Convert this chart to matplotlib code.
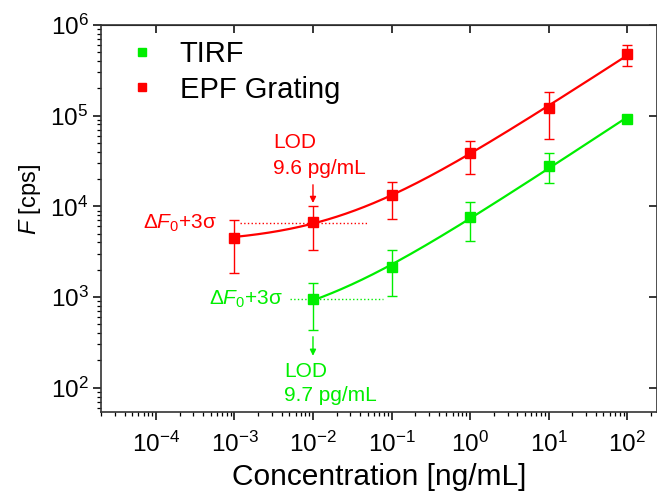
import numpy as np
import matplotlib
matplotlib.use("Agg")
import matplotlib.pyplot as plt
from matplotlib.lines import Line2D

plt.rcParams['font.family'] = ['Liberation Sans', 'DejaVu Sans']
plt.rcParams['mathtext.fontset'] = 'custom'
plt.rcParams['mathtext.rm'] = 'Liberation Sans'
plt.rcParams['mathtext.it'] = 'Liberation Sans:italic'
plt.rcParams['mathtext.bf'] = 'Liberation Sans:bold'

# ---- data ----
conc_epf = np.array([1e-3, 1e-2, 1e-1, 1e0, 1e1, 1e2])
F_epf = np.array([4500, 6700, 13200, 39000, 122000, 480000])
F_epf_hi = np.array([7000, 10200, 18600, 53000, 182000, 600000])
F_epf_lo = np.array([1860, 3300, 7200, 23000, 55000, 355000])

conc_tirf = np.array([1e-2, 1e-1, 1e0, 1e1, 1e2])
F_tirf = np.array([940, 2150, 7600, 28000, 92000])
F_tirf_hi = np.array([1440, 3300, 11200, 39000, 92000])
F_tirf_lo = np.array([430, 1030, 4100, 18000, 92000])

x_ticks = [1e-4, 1e-3, 1e-2, 1e-1, 1e0, 1e1, 1e2]
y_ticks = [1e2, 1e3, 1e4, 1e5, 1e6]

lod_epf_level = 6500
lod_tirf_level = 940
lod_epf_label = "9.6 pg/mL"
lod_tirf_label = "9.7 pg/mL"

RED = '#ff0000'
GREEN = '#00ee00'


def fit_curve(x, y):
    best = None
    for c in np.linspace(0.2, 1.5, 1301):
        A = np.column_stack([np.ones_like(x), x ** c]) / y[:, None]
        coef, *_ = np.linalg.lstsq(A, np.ones_like(y), rcond=None)
        res = np.sum((A @ coef - 1) ** 2)
        if best is None or res < best[0]:
            best = (res, coef[0], coef[1], c)
    return best[1:]


fig = plt.figure(figsize=(6.57, 4.93), dpi=100)
ax = fig.add_axes([101 / 657, 81 / 493, 556 / 657, 387 / 493])
ax.set_xscale('log')
ax.set_yscale('log')
ax.set_xlim(2e-5, 240)
ax.set_ylim(54, 1e6)

for x, y, lo, hi, col in [(conc_epf, F_epf, F_epf_lo, F_epf_hi, RED),
                          (conc_tirf, F_tirf, F_tirf_lo, F_tirf_hi, GREEN)]:
    a, b, c = fit_curve(x, y)
    xs = np.logspace(np.log10(x.min()), np.log10(x.max()), 300)
    ax.plot(xs, a + b * xs ** c, color=col, lw=1.6, zorder=2)
    mask = (hi - lo) > 0
    ax.errorbar(x[mask], y[mask], yerr=[y[mask] - lo[mask], hi[mask] - y[mask]],
                fmt='none', ecolor=col, elinewidth=1.0, capsize=3.5, capthick=1.0,
                zorder=3)
    ax.plot(x, y, 's', color=col, ms=7.5, zorder=4)

# dotted LOD levels
ax.plot([10 ** -2.93, 10 ** -1.30], [lod_epf_level] * 2, ':', color=RED, lw=1.0)
ax.plot([10 ** -2.29, 10 ** -1.11], [lod_tirf_level] * 2, ':', color=GREEN, lw=1.0)

ax.text(10 ** -3.22, lod_epf_level, "Δ$F_0$+3σ", color=RED, fontsize=15,
        ha='right', va='center')
ax.text(10 ** -2.38, lod_tirf_level, "Δ$F_0$+3σ", color=GREEN, fontsize=15,
        ha='right', va='center')

# LOD arrows and labels
ax.annotate('', xy=(1e-2, 10900), xytext=(1e-2, 17300),
            arrowprops=dict(arrowstyle='-|>', color=RED, lw=1.0,
                            mutation_scale=9, shrinkA=0, shrinkB=0))
ax.annotate('', xy=(1e-2, 225), xytext=(1e-2, 365),
            arrowprops=dict(arrowstyle='-|>', color=GREEN, lw=1.0,
                            mutation_scale=9, shrinkA=0, shrinkB=0))
ax.text(10 ** -2.51, 50000, "LOD", color=RED, fontsize=15, ha='left', va='center')
ax.text(10 ** -2.51, 25900, lod_epf_label, color=RED, fontsize=15, ha='left', va='center')
ax.text(10 ** -2.37, 150, "LOD", color=GREEN, fontsize=15, ha='left', va='center')
ax.text(10 ** -2.37, 82, lod_tirf_label, color=GREEN, fontsize=15, ha='left', va='center')

# axes styling
for s in ax.spines.values():
    s.set_linewidth(1.2)
    s.set_color('#333333')
ax.set_xticks(x_ticks)
ax.set_yticks(y_ticks)
ax.xaxis.set_minor_locator(matplotlib.ticker.LogLocator(base=10, subs=np.arange(2, 10), numticks=20))
ax.xaxis.set_minor_formatter(matplotlib.ticker.NullFormatter())
ax.yaxis.set_minor_formatter(matplotlib.ticker.NullFormatter())
ax.tick_params(axis='both', which='major', direction='out', length=6, width=1.1,
               labelsize=17.5)
ax.tick_params(axis='x', which='major', pad=8)
ax.tick_params(axis='y', which='major', pad=3)
ax.tick_params(axis='both', which='minor', direction='out', length=3, width=0.9)

axt = ax.secondary_xaxis('top')
axt.set_xticks(x_ticks)
axt.tick_params(which='major', direction='in', length=6, width=1.1, labeltop=False)
axt.tick_params(which='minor', length=0)
axr = ax.secondary_yaxis('right')
axr.set_yticks(y_ticks)
axr.tick_params(which='major', direction='in', length=6, width=1.1, labelright=False)
axr.tick_params(which='minor', length=0)

ax.set_xlabel("Concentration [ng/mL]", fontsize=21.5)
ax.xaxis.set_label_coords(0.5, -0.132)
ax.set_ylabel("$F$ [cps]", fontsize=17)
ax.yaxis.set_label_coords(-0.105, 0.55)

handles = [Line2D([], [], marker='s', ls='none', color=GREEN, ms=6),
           Line2D([], [], marker='s', ls='none', color=RED, ms=6)]
ax.legend(handles, ["TIRF", "EPF Grating"], loc='upper left', frameon=False,
          fontsize=21, bbox_to_anchor=(0.0, 1.028), handletextpad=0.8,
          labelspacing=0.25, handlelength=1.0, borderpad=0.4)

fig.savefig("out.png", dpi=100)
